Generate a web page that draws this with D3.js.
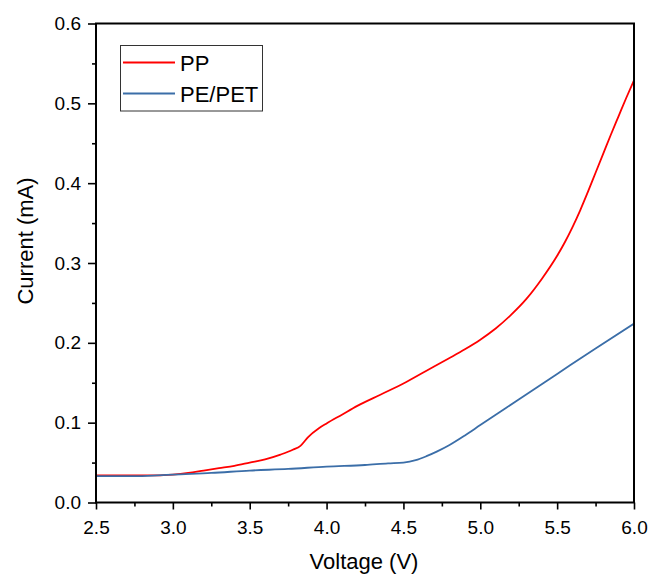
<!DOCTYPE html>
<html>
<head>
<meta charset="utf-8">
<script src="https://cdn.jsdelivr.net/npm/d3@7"></script>
<style>
  html, body { margin: 0; padding: 0; background: #fff; }
  svg { display: block; font-family: "Liberation Sans", Arial, sans-serif; }
</style>
</head>
<body>
<svg id="chart" width="649" height="576"></svg>
<script>
// ---- data ----
const ppVoltage = [2.5, 2.75, 2.9, 3.0, 3.1, 3.2, 3.3, 3.4, 3.5, 3.6, 3.7, 3.78, 3.83, 3.88, 3.95, 4.0, 4.1, 4.2, 4.35, 4.5, 4.65, 4.8, 4.9, 5.0, 5.1, 5.2, 5.3, 5.4, 5.5, 5.55, 5.6, 5.65, 5.7, 5.75, 5.8, 5.85, 5.9, 5.95, 6.0];
const ppCurrent = [0.034, 0.034, 0.034, 0.035, 0.037, 0.040, 0.043, 0.046, 0.050, 0.054, 0.060, 0.066, 0.071, 0.082, 0.093, 0.099, 0.110, 0.121, 0.135, 0.149, 0.165, 0.181, 0.192, 0.204, 0.218, 0.235, 0.255, 0.280, 0.309, 0.326, 0.345, 0.366, 0.389, 0.413, 0.437, 0.461, 0.484, 0.507, 0.529];
const petVoltage = [2.5, 2.75, 2.9, 3.0, 3.25, 3.5, 3.75, 4.0, 4.25, 4.4, 4.5, 4.58, 4.65, 4.72, 4.8, 4.9, 5.0, 5.25, 5.5, 5.75, 6.0];
const petCurrent = [0.033, 0.033, 0.034, 0.035, 0.037, 0.040, 0.042, 0.045, 0.047, 0.049, 0.050, 0.053, 0.058, 0.064, 0.072, 0.084, 0.097, 0.129, 0.161, 0.193, 0.224];
const seriesNames = ["PP", "PE/PET"];
const seriesColors = ["#ff0000", "#3b6ea8"];
const xTicks = [2.5, 3.0, 3.5, 4.0, 4.5, 5.0, 5.5, 6.0];
const xMinorTicks = [2.75, 3.25, 3.75, 4.25, 4.75, 5.25, 5.75];
const yTicks = [0.0, 0.1, 0.2, 0.3, 0.4, 0.5, 0.6];
const yMinorTicks = [0.05, 0.15, 0.25, 0.35, 0.45, 0.55];
const xLabel = "Voltage (V)";
const yLabel = "Current (mA)";

// ---- layout ----
const L = 96, R = 634, T = 23.5, B = 502.5;
const svg = d3.select("#chart");
const x = d3.scaleLinear().domain([2.5, 6.0]).range([L, R]);
const y = d3.scaleLinear().domain([0, 0.6]).range([B, T]);

// curves
const series = [
  ppVoltage.map((v, i) => [v, ppCurrent[i]]),
  petVoltage.map((v, i) => [v, petCurrent[i]])
];
const line = d3.line().x(d => x(d[0])).y(d => y(d[1])).curve(d3.curveMonotoneX);
const clip = svg.append("clipPath").attr("id", "clip").append("rect")
  .attr("x", L).attr("y", T).attr("width", R - L).attr("height", B - T);
svg.append("g").attr("clip-path", "url(#clip)")
  .selectAll("path").data(series).join("path")
  .attr("d", line).attr("fill", "none")
  .attr("stroke", (d, i) => seriesColors[i]).attr("stroke-width", 1.8)
  .attr("stroke-linejoin", "round");

// frame
svg.append("rect").attr("x", L).attr("y", T).attr("width", R - L).attr("height", B - T)
  .attr("fill", "none").attr("stroke", "#000").attr("stroke-width", 2);

// axes
const fmt = d3.format(".1f");
const xAxis = svg.append("g").attr("transform", `translate(0,${B})`)
  .call(d3.axisBottom(x).tickValues(xTicks).tickFormat(fmt).tickSize(7).tickPadding(11));
const xMinor = svg.append("g").attr("transform", `translate(0,${B})`)
  .call(d3.axisBottom(x).tickValues(xMinorTicks).tickFormat("").tickSize(4));
const yAxis = svg.append("g").attr("transform", `translate(${L},0)`)
  .call(d3.axisLeft(y).tickValues(yTicks).tickFormat(fmt).tickSize(8).tickPadding(7));
const yMinor = svg.append("g").attr("transform", `translate(${L},0)`)
  .call(d3.axisLeft(y).tickValues(yMinorTicks).tickFormat("").tickSize(4));
[xAxis, xMinor, yAxis, yMinor].forEach(g => {
  g.select(".domain").remove();
  g.selectAll(".tick line").attr("stroke", "#000").attr("stroke-width", 1.6);
  g.selectAll("text").attr("font-size", 19).attr("fill", "#000")
    .attr("font-family", '"Liberation Sans", Arial, sans-serif');
});

// axis titles
svg.append("text").attr("x", (L + R) / 2 - 1).attr("y", 569)
  .attr("text-anchor", "middle").attr("font-size", 22).text(xLabel);
svg.append("text").attr("transform", "translate(33,241) rotate(-90)")
  .attr("text-anchor", "middle").attr("font-size", 22).text(yLabel);

// legend
const lg = svg.append("g");
lg.append("rect").attr("x", 120.5).attr("y", 45.5).attr("width", 142).attr("height", 65.5)
  .attr("fill", "#fff").attr("stroke", "#333").attr("stroke-width", 1);
const ly = [62.5, 93.5];
seriesNames.forEach((name, i) => {
  lg.append("line").attr("x1", 123).attr("x2", 175).attr("y1", ly[i]).attr("y2", ly[i])
    .attr("stroke", seriesColors[i]).attr("stroke-width", 1.8);
  lg.append("text").attr("x", 180).attr("y", ly[i] + 8).attr("font-size", 22).text(name);
});
</script>
</body>
</html>
